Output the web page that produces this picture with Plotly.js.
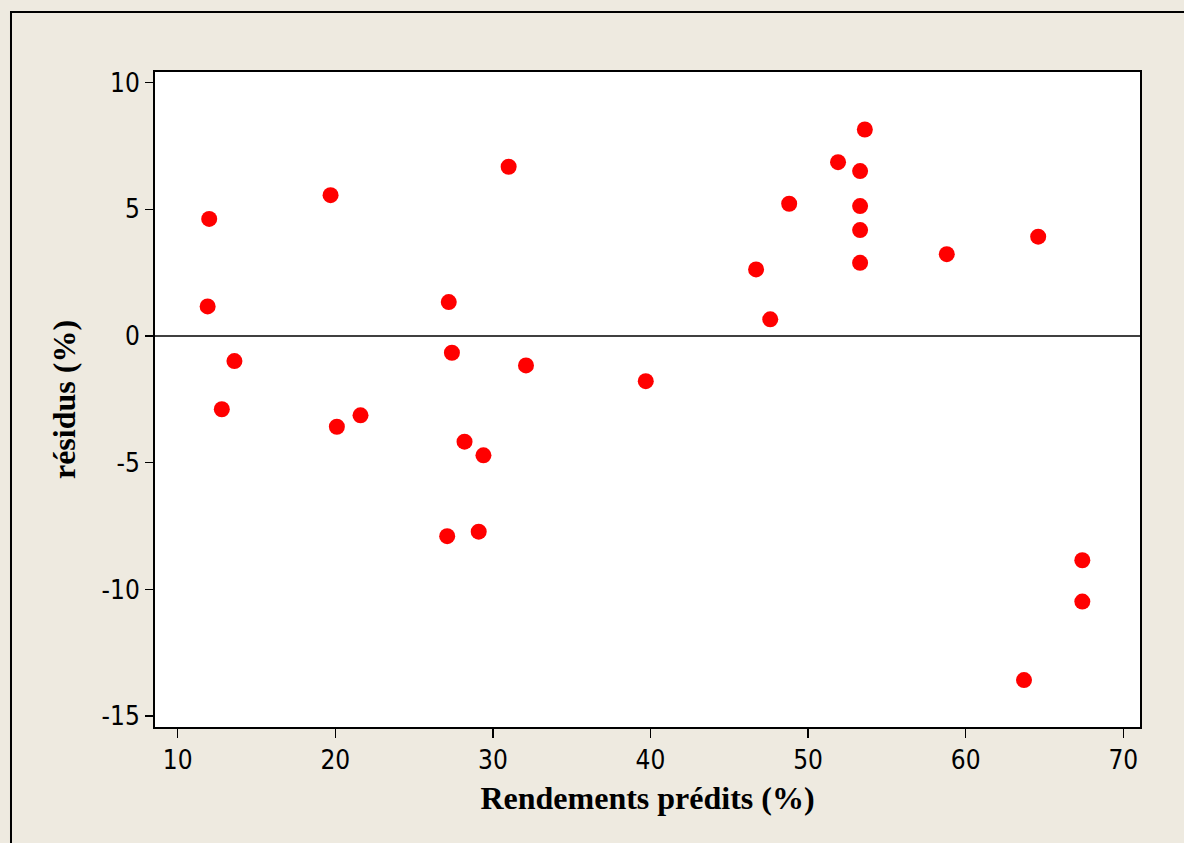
<!DOCTYPE html>
<html>
<head>
<meta charset="utf-8">
<script src="https://cdn.plot.ly/plotly-3.0.1.min.js"></script>
<style>
  html, body { margin: 0; padding: 0; background: #EEEAE0; }
  #chart { width: 1184px; height: 843px; }
</style>
</head>
<body>
<div id="chart"></div>
<script>
// Predicted yields (%) and the corresponding residuals (%)
const rendementsPredits = [
  12.0, 11.9, 19.7, 13.6, 12.8, 20.1, 21.6,
  27.2, 27.4, 32.1, 28.2, 29.4, 27.1, 29.1, 31.0, 39.7,
  53.6, 51.9, 53.3, 48.8, 53.3, 53.3, 53.3, 46.7, 47.6, 58.8, 64.6,
  67.4, 67.4, 63.7
];
const residus = [
  4.62, 1.17, 5.56, -0.99, -2.89, -3.58, -3.13,
  1.34, -0.66, -1.16, -4.17, -4.71, -7.90, -7.72, 6.68, -1.78,
  8.15, 6.86, 6.51, 5.22, 5.13, 4.18, 2.89, 2.63, 0.66, 3.23, 3.92,
  -8.85, -10.48, -13.58
];
const xTicks = [10, 20, 30, 40, 50, 60, 70];
const yTicks = [-15, -10, -5, 0, 5, 10];

const tickFont = { family: "Tahoma, 'DejaVu Sans Condensed', 'DejaVu Sans', sans-serif", size: 26, color: '#000' };
const titleFont = { family: "'Liberation Serif', 'Times New Roman', serif", size: 32, color: '#000', weight: 'bold' };

const trace = {
  type: 'scatter',
  mode: 'markers',
  x: rendementsPredits,
  y: residus,
  marker: { color: '#FF0000', size: 16, line: { width: 0 } },
  hoverinfo: 'x+y',
  showlegend: false
};

const layout = {
  width: 1184,
  height: 843,
  paper_bgcolor: '#EEEAE0',
  plot_bgcolor: '#FFFFFF',
  margin: { l: 155, r: 44, t: 72, b: 116 },
  showlegend: false,
  xaxis: {
    range: [8.56, 71.06],
    tickvals: xTicks,
    ticktext: xTicks.map(String),
    ticks: 'outside', ticklen: 9, tickwidth: 1.5, tickcolor: '#000',
    showgrid: false, zeroline: false,
    showline: true, mirror: true, linecolor: '#000', linewidth: 2,
    tickfont: tickFont,
    title: { text: 'Rendements prédits (%)', font: titleFont, standoff: 12 }
  },
  yaxis: {
    range: [-15.43, 10.42],
    tickvals: yTicks,
    ticktext: yTicks.map(String),
    ticks: 'outside', ticklen: 8, tickwidth: 1.5, tickcolor: '#000',
    showgrid: false,
    zeroline: true, zerolinecolor: '#404040', zerolinewidth: 2,
    showline: true, mirror: true, linecolor: '#000', linewidth: 2,
    tickfont: tickFont,
    title: { text: 'résidus (%)', font: titleFont, standoff: 16 }
  },
  shapes: [
    {
      type: 'rect', xref: 'paper', yref: 'paper', layer: 'below',
      x0: -0.1462, x1: 1.3, y0: -0.5, y1: 1.0916,
      line: { color: '#000', width: 2 }, fillcolor: 'rgba(0,0,0,0)'
    }
  ]
};

Plotly.newPlot('chart', [trace], layout, { displayModeBar: false, staticPlot: true });
</script>
</body>
</html>
